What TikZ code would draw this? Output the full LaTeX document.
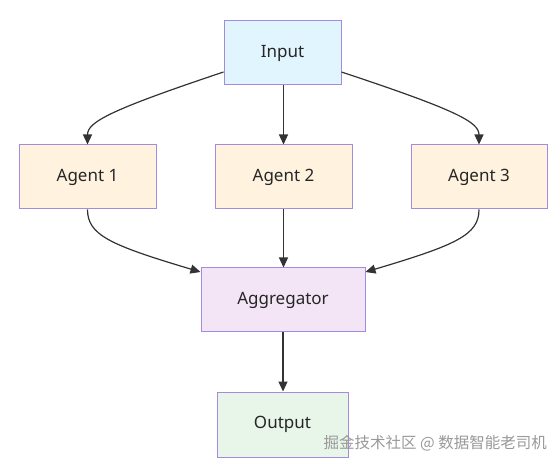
\documentclass[tikz,border=0pt]{standalone}
\usepackage{fontspec}
\setmainfont{Noto Sans}
\newfontfamily\cjkfont{Noto Sans CJK SC}
\usetikzlibrary{arrows.meta}
\definecolor{bordc}{HTML}{A38BE0}
\definecolor{linec}{HTML}{333333}
\definecolor{inputc}{HTML}{E1F5FE}
\definecolor{agentc}{HTML}{FFF3E0}
\definecolor{aggc}{HTML}{F3E5F5}
\definecolor{outc}{HTML}{E8F5E9}
\definecolor{txtc}{HTML}{262626}
\tikzset{
  box/.style={draw=bordc, line width=1pt, minimum height=64pt, text=txtc, font=\fontsize{17}{20}\selectfont, inner sep=0pt},
  conn/.style={draw=linec, line width=1.2pt, -{Triangle[length=10pt,width=9pt]}},
}
\begin{document}
\begin{tikzpicture}[x=1pt,y=-1pt]
\useasboundingbox (0,0) rectangle (560,465);
\fill[white] (0,0) rectangle (560,465);
\node[box, fill=inputc, minimum width=117pt] (in) at (282.5,53) {Input};
\node[box, fill=agentc, minimum width=137pt] (a1) at (87.5,177) {Agent 1};
\node[box, fill=agentc, minimum width=137pt] (a2) at (283.5,177) {Agent 2};
\node[box, fill=agentc, minimum width=136pt] (a3) at (479,177) {Agent 3};
\node[box, fill=aggc, minimum width=164pt] (ag) at (283,300) {Aggregator};
\node[box, fill=outc, minimum width=131pt, minimum height=65pt] (out) at (282.5,424.5) {Output};
\node[text=gray!80, font=\cjkfont\fontsize{15.5}{18}\selectfont, anchor=east, inner sep=0pt] (wm) at (547,443) {掘金技术社区 @ 数据智能老司机};
\coordinate (in1) at (in.west |- 0,72);
\coordinate (in3) at (in.east |- 0,72);
\coordinate (ag1) at (ag.west |- 0,272);
\coordinate (ag3) at (ag.east |- 0,272);
\draw[conn] (in1) .. controls (110,110) and (87.5,122) .. (a1.north);
\draw[conn] (in3) .. controls (456,110) and (479,122) .. (a3.north);
\draw[conn] (in.south -| a2.north) -- (a2.north);
\draw[conn] (a1.south) .. controls (87.5,235) and (110,245) .. (ag1);
\draw[conn] (a3.south) .. controls (479,235) and (456,245) .. (ag3);
\draw[conn] (a2.south) -- (ag.north -| a2.south);
\draw[conn] (ag.south) -- (out.north -| ag.south);
\end{tikzpicture}
\end{document}
